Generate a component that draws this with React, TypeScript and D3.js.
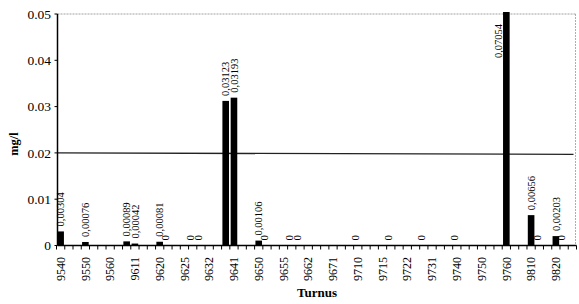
import React from "react";
import * as d3 from "d3";

// Category tick labels (one label every third turnus)
const tickLabels = [
  "9540", "9550", "9560", "9611", "9620", "9625", "9632", "9641", "9650", "9655",
  "9662", "9671", "9710", "9715", "9722", "9731", "9740", "9750", "9760", "9810", "9820",
];

// Values per turnus (null = no measurement), three turnus per labelled group
const values: (number | null)[] = [
  0.00304, null, null,   // 9540
  0.00076, null, null,   // 9550
  null, null, 0.00089,   // 9560
  0.00042, null, null,   // 9611
  0.00081, 0, null,      // 9620
  null, 0, 0,            // 9625
  null, null, 0.03123,   // 9632
  0.03193, null, null,   // 9641
  0.00106, 0, null,      // 9650
  null, 0, 0,            // 9655
  null, null, null,      // 9662
  null, null, null,      // 9671
  0, null, null,         // 9710
  null, 0, null,         // 9715
  null, null, 0,         // 9722
  null, null, null,      // 9731
  0, null, null,         // 9740
  null, null, null,      // 9750
  0.07054, null, null,   // 9760
  0.00656, 0, null,      // 9810
  0.00203, 0, null,      // 9820
];

const yTicks = [0, 0.01, 0.02, 0.03, 0.04, 0.05];
const limitValue = 0.02;
const yTitle = "mg/l";
const xTitle = "Turnus";

const W = 579;
const H = 304;
const SERIF = "'Liberation Serif', 'Times New Roman', serif";

export default function App() {
  const idx = values.map((_, i) => String(i));
  const x = d3.scaleBand<string>().domain(idx).range([56.5, 576.5]).paddingInner(0.2).paddingOuter(0.1);
  const y = d3.scaleLinear().domain([0, 0.05]).range([245.5, 14]);
  const step = x.step();
  const bw = x.bandwidth();
  const axisX = 57.5;
  const x0 = y(0);
  const yTop = y(0.05);
  const rightX = 575.5;

  const fmt = (v: number) => (v === 0 ? "0" : d3.format(".5f")(v).replace(".", ","));

  const boundaries = idx.map((c) => (x(c) as number) + bw / 2 - step / 2);
  boundaries.push((x(idx[idx.length - 1]) as number) + bw / 2 + step / 2);

  return (
    <svg width={W} height={H} style={{ position: "absolute", left: 0, top: 0, background: "#fff" }}>
      <rect x={0} y={0} width={W} height={H} fill="#fff" />
      {/* plot border (dotted top and right) */}
      <line x1={axisX} x2={rightX} y1={yTop} y2={yTop} stroke="#888" strokeWidth={0.8} strokeDasharray="2,1" />
      <line x1={rightX} x2={rightX} y1={yTop} y2={x0} stroke="#999" strokeWidth={0.8} strokeDasharray="2,1" />

      {/* limit line */}
      <line x1={axisX} x2={rightX - 2} y1={y(limitValue)} y2={y(limitValue) + 1.5} stroke="#222" strokeWidth={1.3} />

      {/* bars */}
      {values.map((v, i) => {
        if (v === null || v === 0) return null;
        const top = Math.max(y(v), yTop - 2);
        return <rect key={"b" + i} x={x(String(i))} y={top} width={bw} height={x0 - top} fill="#000" />;
      })}

      {/* data labels */}
      {values.map((v, i) => {
        if (v === null) return null;
        const cx = (x(String(i)) as number) + bw / 2;
        if (v === 0) {
          return (
            <text key={"l" + i} transform={`translate(${cx},${x0 - 5}) rotate(-90)`} dy="0.12em"
              fontFamily={SERIF} fontSize={11} fill="#000">{fmt(v)}</text>
          );
        }
        if (v > 0.05) {
          return (
            <text key={"l" + i} transform={`translate(${cx - 8},${yTop + 44}) rotate(-90)`} dy="0.35em"
              fontFamily={SERIF} fontSize={10.5} fill="#000">{fmt(v)}</text>
          );
        }
        return (
          <text key={"l" + i} transform={`translate(${cx},${y(v) - 5}) rotate(-90)`} dy="0.35em"
            fontFamily={SERIF} fontSize={10.5} fill="#000">{fmt(v)}</text>
        );
      })}

      {/* y axis */}
      <line x1={axisX} x2={axisX} y1={yTop} y2={x0} stroke="#000" strokeWidth={1.5} />
      {yTicks.map((t) => (
        <g key={"yt" + t}>
          <line x1={axisX - 3} x2={axisX} y1={y(t)} y2={y(t)} stroke="#000" strokeWidth={1} />
          <text x={51} y={y(t)} dy="0.35em" textAnchor="end" fontFamily={SERIF} fontSize={13.5} fill="#000">
            {String(t)}
          </text>
        </g>
      ))}

      {/* x axis */}
      <line x1={axisX} x2={boundaries[boundaries.length - 1]} y1={x0} y2={x0} stroke="#000" strokeWidth={1.5} />
      {boundaries.map((bx, i) => (
        <line key={"xt" + i} x1={bx} x2={bx} y1={x0} y2={x0 + 4} stroke="#000" strokeWidth={1} />
      ))}
      {tickLabels.map((lab, k) => {
        const cx = (x(String(k * 3)) as number) + bw / 2;
        return (
          <text key={"xl" + k} transform={`translate(${cx},${257}) rotate(-90)`} dy="0.35em" textAnchor="end"
            fontFamily={SERIF} fontSize={12} fill="#000">{lab}</text>
        );
      })}

      {/* axis titles */}
      <text x={317} y={297} textAnchor="middle" fontFamily={SERIF} fontWeight="bold" fontSize={13} fill="#000">
        {xTitle}
      </text>
      <text transform={`translate(18,144) rotate(-90)`} textAnchor="middle" fontFamily={SERIF} fontWeight="bold"
        fontSize={12.5} fill="#000">{yTitle}</text>
    </svg>
  );
}
